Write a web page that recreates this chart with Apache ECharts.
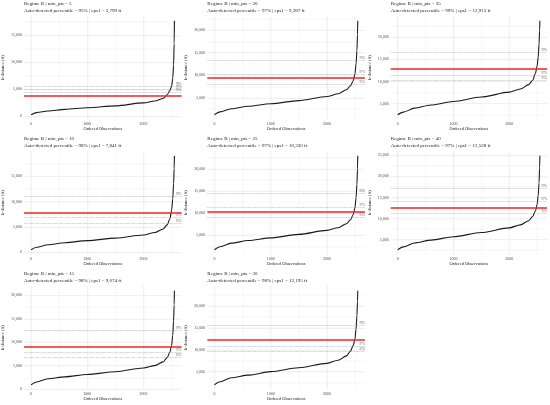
<!DOCTYPE html>
<html><head><meta charset="utf-8">
<script src="https://cdn.jsdelivr.net/npm/echarts@6/dist/echarts.min.js"></script>
<style>html,body{margin:0;padding:0;background:#fff}#c{width:550px;height:405px}</style>
</head><body><div id="c"></div>
<script>
// ordered observation index at which each k-distance value was read
const obsIndex = [1,100,300,600,1000,1500,2000,2200,2350,2420,2470,2500,2520,2535,2545,2550];
// sorted k-distance (ft) for each min_pts
const kdist5  = [300,700,1000,1300,1600,1950,2500,2850,3300,4000,4800,5600,7000,9500,13500,17700];
const kdist10 = [500,1000,1500,1900,2300,2800,3400,3900,4600,5400,6600,8300,10500,13500,16500,19000];
const kdist15 = [900,1500,2200,2600,3100,3700,4500,5000,5800,6700,7900,9300,11500,14500,18000,21000];
const kdist20 = [1250,1900,2600,3150,3700,4400,5300,5900,6800,7700,8800,10300,12500,15500,19000,22100];
const kdist25 = [1700,2400,3200,3800,4400,5200,6100,6700,7600,8500,9700,11200,13500,16500,20000,23000];
const kdist30 = [2000,2700,3600,4200,5000,5900,6900,7600,8600,9700,11000,12500,14800,17800,21000,23500];
const kdist35 = [2500,3100,4000,4700,5500,6500,7600,8300,9300,10300,11800,13500,15500,18500,21500,23700];
const kdist40 = [2600,3300,4200,4900,5700,6700,7800,8500,9500,10500,11800,13300,15500,18500,22000,24900];

const minPts  = [5,10,15,20,25,30,35,40];
const autoPct = ['95%','98%','98%','97%','97%','98%','99%','97%'];
const eps1    = [3799,7841,9074,9387,10330,12195,12913,12528];

// candidate percentile reference lines (ft), top to bottom
const pct5  = [5625,5060,4500];
const pct10 = [11020,6980,5740];
const pct15 = [12460,7830,6760];
const pct20 = [13380,10150,7940];
const pct25 = [14480,11390,8970];
const pct30 = [15690,10910,9630];
const pct35 = [16640,11490,10220];
const pct40 = [17160,14000,11180];
const pctLabels = ['99%','97%','95%'];

const xMajor = 1000, xMinor = 500, yMajor = 5000, yMinor = 2500;

const kdists = [kdist5,kdist10,kdist15,kdist20,kdist25,kdist30,kdist35,kdist40];
const pcts = [pct5,pct10,pct15,pct20,pct25,pct30,pct35,pct40];

const FONT = 'Liberation Serif';
const GRIDC = '#ebebeb';
const grids = [], xAxes = [], yAxes = [], series = [], titles = [];
const panelW = 550/3, panelH = 135;

function fmtComma(v){ return String(Math.round(v)).replace(/\B(?=(\d{3})+(?!\d))/g, ','); }

for (let i = 0; i < 8; i++) {
  const col = Math.floor(i/3), row = i % 3;
  const px = col*panelW, py = row*panelH;
  grids.push({left: px+24, top: py+16, width: 157.6, height: 103.5, containLabel: false});
  const xs = obsIndex;
  const ys = kdists[i];
  const xmin = xs[0] - 0.05*(xs[xs.length-1]-xs[0]);
  const xmax = xs[xs.length-1] + 0.05*(xs[xs.length-1]-xs[0]);
  const allY = ys.concat(pcts[i]).concat([eps1[i]]);
  const ylo = Math.min(...allY), yhi = Math.max(...allY);
  const ymin = ylo - 0.05*(yhi-ylo), ymax = yhi + 0.05*(yhi-ylo);

  titles.push({
    text: 'Regime B | min_pts = ' + minPts[i] + '\nAuto-detected percentile = ' + autoPct[i] + ' | eps1 = ' + fmtComma(eps1[i]) + ' ft',
    left: px+24, top: py+0.5, padding: 0,
    textStyle: {fontFamily: FONT, fontSize: 5, fontWeight: 'normal', color: '#222', lineHeight: 7}
  });

  // major x
  xAxes.push({
    type: 'value', gridIndex: i, min: xmin, max: xmax,
    minInterval: xMajor, maxInterval: xMajor, splitNumber: 3,
    axisLine: {show: false}, axisTick: {show: false},
    axisLabel: {fontFamily: FONT, fontSize: 4, color: '#4d4d4d', margin: 2.5,
      formatter: v => (Math.abs(v % xMajor) < 1e-6 ? String(v) : '')},
    splitLine: {show: true, showMinLine: false, showMaxLine: false, lineStyle: {color: GRIDC, width: 0.6}},
    name: 'Ordered Observations', nameLocation: 'middle', nameGap: 7,
    nameTextStyle: {fontFamily: FONT, fontSize: 4.4, color: '#222'}
  });
  // minor x
  xAxes.push({
    type: 'value', gridIndex: i, min: xmin, max: xmax, position: 'bottom',
    minInterval: xMinor, maxInterval: xMinor, splitNumber: 6,
    axisLine: {show: false}, axisTick: {show: false}, axisLabel: {show: false},
    splitLine: {show: true, showMinLine: false, showMaxLine: false, lineStyle: {color: GRIDC, width: 0.35}}
  });
  yAxes.push({
    type: 'value', gridIndex: i, min: ymin, max: ymax,
    minInterval: yMajor, maxInterval: yMajor, splitNumber: 4,
    axisLine: {show: false}, axisTick: {show: false},
    axisLabel: {fontFamily: FONT, fontSize: 4, color: '#4d4d4d', margin: 2,
      formatter: v => (Math.abs(v % yMajor) < 1e-6 ? fmtComma(v) : '')},
    splitLine: {show: true, showMinLine: false, showMaxLine: false, lineStyle: {color: GRIDC, width: 0.6}},
    name: 'k-distance (ft)', nameLocation: 'middle', nameGap: 19,
    nameTextStyle: {fontFamily: FONT, fontSize: 4.4, color: '#222'}
  });
  yAxes.push({
    type: 'value', gridIndex: i, min: ymin, max: ymax, position: 'left',
    minInterval: yMinor, maxInterval: yMinor, splitNumber: 8,
    axisLine: {show: false}, axisTick: {show: false}, axisLabel: {show: false},
    splitLine: {show: true, showMinLine: false, showMaxLine: false, lineStyle: {color: GRIDC, width: 0.35}}
  });

  const ml = pcts[i].map((v, k) => ({
    yAxis: v,
    lineStyle: {type: 'dotted', color: '#9a9a9a', width: 0.6},
    label: {show: true, formatter: pctLabels[k], position: 'insideEndTop', distance: [0, 0.5],
      fontFamily: FONT, fontSize: 3, color: '#666'}
  }));
  ml.push({yAxis: eps1[i], lineStyle: {type: 'solid', color: '#f02424', width: 1.6}, label: {show: false}});

  series.push({
    type: 'line', xAxisIndex: 2*i, yAxisIndex: 2*i,
    data: xs.map((x, k) => [x, ys[k]]),
    showSymbol: false, smooth: 0.3, smoothMonotone: 'x',
    lineStyle: {color: '#1a1a1a', width: 1.1}, z: 3,
    markLine: {silent: true, symbol: 'none', data: ml, animation: false}
  });
}

const chart = echarts.init(document.getElementById('c'), null, {renderer: 'canvas'});
chart.setOption({
  animation: false, backgroundColor: '#fff',
  title: titles, grid: grids, xAxis: xAxes, yAxis: yAxes, series: series
});
</script></body></html>
